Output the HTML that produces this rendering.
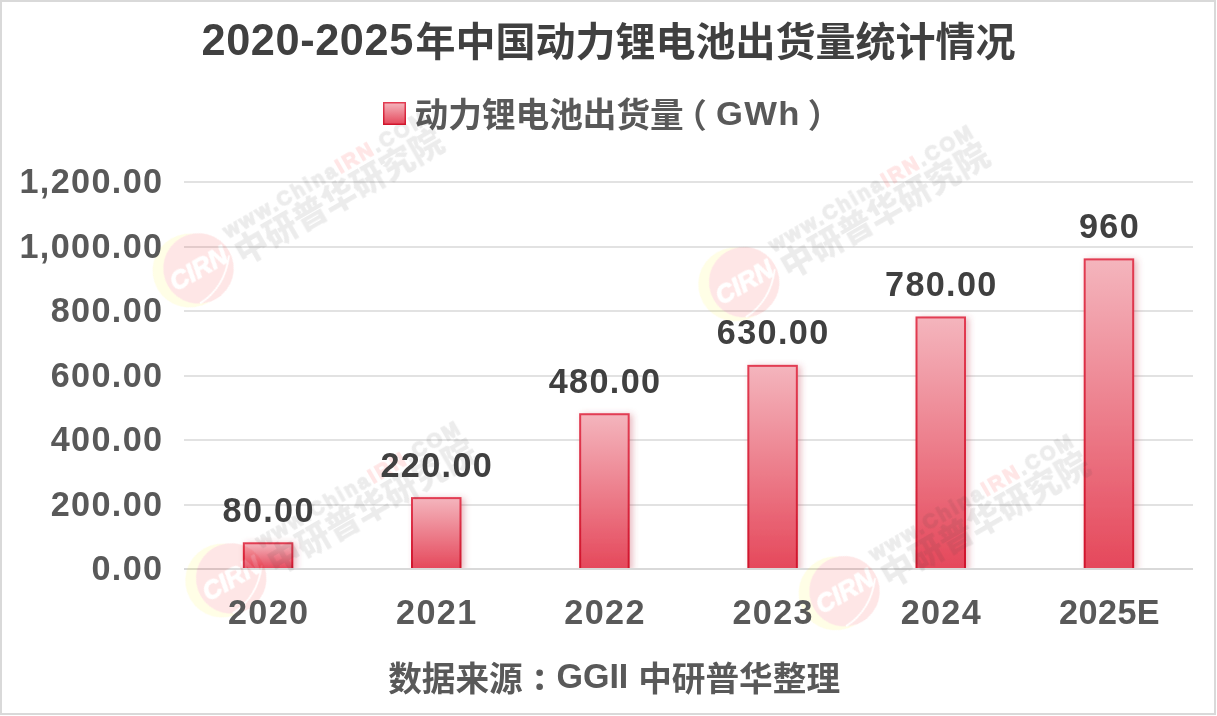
<!DOCTYPE html>
<html lang="zh-CN">
<head>
<meta charset="utf-8">
<title>2020-2025年中国动力锂电池出货量统计情况</title>
<style>
html,body{margin:0;padding:0;background:#fff;}
body{width:1217px;height:716px;overflow:hidden;position:relative;font-family:"Liberation Sans","Noto Sans CJK SC",sans-serif;}
#frame{position:absolute;left:0;top:0;width:1212px;height:711px;border:2px solid #d9d9d9;background:#fff;}
svg{position:absolute;left:0;top:0;}
text{font-family:"Liberation Sans","Noto Sans CJK SC",sans-serif;font-weight:bold;}
.cjk{font-family:"Liberation Sans","Noto Sans CJK SC",sans-serif;}
.wm0{font-size:25.5px;font-style:italic;fill:#fff;stroke:#fff;stroke-width:0.9px;font-weight:bold;}
.wm1{font-size:20px;fill:#404040;stroke:#404040;stroke-width:1.3px;font-weight:bold;}
.wm1 tspan{fill:#ff0000;stroke:#ff0000;}
.wm2{font-size:33.5px;fill:#404040;font-family:"Liberation Sans","Noto Sans CJK SC",sans-serif;font-weight:900;}
</style>
</head>
<body>
<div id="frame"></div>
<svg width="1217" height="716" viewBox="0 0 1217 716">
<defs>
  <linearGradient id="bf" x1="0" y1="0" x2="0" y2="1">
    <stop offset="0" stop-color="#f4b5bd"/>
    <stop offset="1" stop-color="#e5485b"/>
  </linearGradient>
  <linearGradient id="bs" x1="0" y1="0" x2="0" y2="1">
    <stop offset="0" stop-color="#e23c52"/>
    <stop offset="1" stop-color="#d0152c"/>
  </linearGradient>
  <clipPath id="plot"><rect x="150" y="150" width="1060" height="419"/></clipPath>
  <filter id="sh" x="-30%" y="-10%" width="180%" height="130%">
    <feGaussianBlur in="SourceAlpha" stdDeviation="3"/>
    <feOffset dx="3" dy="1" result="o"/>
    <feFlood flood-color="#c04050" flood-opacity="0.35"/>
    <feComposite in2="o" operator="in"/>
    <feMerge><feMergeNode/><feMergeNode in="SourceGraphic"/></feMerge>
  </filter>
</defs>

<!-- gridlines -->
<g fill="#e2e2e2">
  <rect x="184" y="181" width="1009" height="2"/>
  <rect x="184" y="246" width="1009" height="2"/>
  <rect x="184" y="310" width="1009" height="2"/>
  <rect x="184" y="375" width="1009" height="2"/>
  <rect x="184" y="439" width="1009" height="2"/>
  <rect x="184" y="504" width="1009" height="2"/>
</g>
<!-- bars -->
<g clip-path="url(#plot)"><g filter="url(#sh)"><g fill="url(#bf)" stroke="url(#bs)" stroke-width="2">
  <rect x="243.83" y="543.29" width="48.5" height="25.81"/>
  <rect x="412.00" y="498.12" width="48.5" height="70.98"/>
  <rect x="580.17" y="414.24" width="48.5" height="154.86"/>
  <rect x="748.34" y="365.85" width="48.5" height="203.25"/>
  <rect x="916.51" y="317.45" width="48.5" height="251.65"/>
  <rect x="1084.68" y="259.38" width="48.5" height="309.72"/>
</g></g></g>
<rect x="184" y="568" width="1009" height="2" fill="#d9d9d9"/>
<!-- watermarks -->
<g opacity="0.1">
  <g transform="translate(198.5,268.4) rotate(-30)">
    <circle cx="-8.8" cy="-2.6" r="37" fill="#fff000"/>
    <circle cx="0" cy="0" r="35.2" fill="#f50500"/>
    <text class="wm0" x="0" y="8.5" text-anchor="middle">CIRN</text>
    <path d="M-16 31 Q 13.5 29.7 33 4" fill="none" stroke="#fff" stroke-width="1.8"/>
    <text class="wm1" x="40.5" y="-11.5" textLength="231.5" lengthAdjust="spacing">www.China<tspan>IRN</tspan>.COM</text>
    <text class="wm2" x="40" y="19.5" textLength="235" lengthAdjust="spacing">中研普华研究院</text>
  </g>
  <g transform="translate(744.2,282.2) rotate(-30)">
    <circle cx="-8.8" cy="-2.6" r="37" fill="#fff000"/>
    <circle cx="0" cy="0" r="35.2" fill="#f50500"/>
    <text class="wm0" x="0" y="8.5" text-anchor="middle">CIRN</text>
    <path d="M-16 31 Q 13.5 29.7 33 4" fill="none" stroke="#fff" stroke-width="1.8"/>
    <text class="wm1" x="40.5" y="-11.5" textLength="231.5" lengthAdjust="spacing">www.China<tspan>IRN</tspan>.COM</text>
    <text class="wm2" x="40" y="19.5" textLength="235" lengthAdjust="spacing">中研普华研究院</text>
  </g>
  <g transform="translate(231.2,578.4) rotate(-30)">
    <circle cx="-8.8" cy="-2.6" r="37" fill="#fff000"/>
    <circle cx="0" cy="0" r="35.2" fill="#f50500"/>
    <text class="wm0" x="0" y="8.5" text-anchor="middle">CIRN</text>
    <path d="M-16 31 Q 13.5 29.7 33 4" fill="none" stroke="#fff" stroke-width="1.8"/>
    <text class="wm1" x="40.5" y="-11.5" textLength="231.5" lengthAdjust="spacing">www.China<tspan>IRN</tspan>.COM</text>
    <text class="wm2" x="40" y="19.5" textLength="235" lengthAdjust="spacing">中研普华研究院</text>
  </g>
  <g transform="translate(844.5,591.2) rotate(-30)">
    <circle cx="-8.8" cy="-2.6" r="37" fill="#fff000"/>
    <circle cx="0" cy="0" r="35.2" fill="#f50500"/>
    <text class="wm0" x="0" y="8.5" text-anchor="middle">CIRN</text>
    <path d="M-16 31 Q 13.5 29.7 33 4" fill="none" stroke="#fff" stroke-width="1.8"/>
    <text class="wm1" x="40.5" y="-11.5" textLength="231.5" lengthAdjust="spacing">www.China<tspan>IRN</tspan>.COM</text>
    <text class="wm2" x="40" y="19.5" textLength="235" lengthAdjust="spacing">中研普华研究院</text>
  </g>
</g>
<!-- title -->
<text transform="translate(201.5,55) scale(1,1.022)" font-size="43.28" fill="#404040" text-anchor="start" letter-spacing="0.60">2020-2025</text>
<text class="cjk" x="415.5" y="56" font-size="40" fill="#404040">年中国动力锂电池出货量统计情况</text>
<!-- legend -->
<rect x="383.75" y="102.75" width="21.5" height="21.5" fill="url(#bf)" stroke="url(#bs)" stroke-width="1.5"/>
<text class="cjk" x="414.6" y="127" font-size="33.65" fill="#595959">动力锂电池出货量</text>
<text class="cjk" x="673.5" y="127" font-size="33.3" fill="#595959">（</text>
<text transform="translate(716,125) scale(1,0.985)" font-size="34.62" fill="#595959" text-anchor="start" letter-spacing="1.38">GWh</text>
<text class="cjk" x="807.8" y="127" font-size="33.3" fill="#595959">）</text>
<!-- y axis -->
<text transform="translate(163.4,193) scale(1,1.04)" font-size="34.19" fill="#595959" text-anchor="end" letter-spacing="1.36">1,200.00</text>
<text transform="translate(163.4,258) scale(1,1.04)" font-size="34.19" fill="#595959" text-anchor="end" letter-spacing="1.36">1,000.00</text>
<text transform="translate(163.4,322) scale(1,1.04)" font-size="34.19" fill="#595959" text-anchor="end" letter-spacing="1.36">800.00</text>
<text transform="translate(163.4,387) scale(1,1.04)" font-size="34.19" fill="#595959" text-anchor="end" letter-spacing="1.36">600.00</text>
<text transform="translate(163.4,451) scale(1,1.04)" font-size="34.19" fill="#595959" text-anchor="end" letter-spacing="1.36">400.00</text>
<text transform="translate(163.4,516) scale(1,1.04)" font-size="34.19" fill="#595959" text-anchor="end" letter-spacing="1.36">200.00</text>
<text transform="translate(163.4,580) scale(1,1.04)" font-size="34.19" fill="#595959" text-anchor="end" letter-spacing="1.36">0.00</text>
<!-- x axis -->
<text transform="translate(268.685,624) scale(1,1.04)" font-size="34.19" fill="#595959" text-anchor="middle" letter-spacing="1.36">2020</text>
<text transform="translate(436.855,624) scale(1,1.04)" font-size="34.19" fill="#595959" text-anchor="middle" letter-spacing="1.36">2021</text>
<text transform="translate(605.025,624) scale(1,1.04)" font-size="34.19" fill="#595959" text-anchor="middle" letter-spacing="1.36">2022</text>
<text transform="translate(773.1949999999999,624) scale(1,1.04)" font-size="34.19" fill="#595959" text-anchor="middle" letter-spacing="1.36">2023</text>
<text transform="translate(941.365,624) scale(1,1.04)" font-size="34.19" fill="#595959" text-anchor="middle" letter-spacing="1.36">2024</text>
<text transform="translate(1109.5349999999999,624) scale(1,1.04)" font-size="34.19" fill="#595959" text-anchor="middle" letter-spacing="0.45">2025E</text>
<!-- data labels -->
<text transform="translate(268.685,521.79) scale(1,1.04)" font-size="34.19" fill="#404040" text-anchor="middle" letter-spacing="1.36">80.00</text>
<text transform="translate(436.855,476.6225) scale(1,1.04)" font-size="34.19" fill="#404040" text-anchor="middle" letter-spacing="1.36">220.00</text>
<text transform="translate(605.025,392.74) scale(1,1.04)" font-size="34.19" fill="#404040" text-anchor="middle" letter-spacing="1.36">480.00</text>
<text transform="translate(773.1949999999999,344.34625) scale(1,1.04)" font-size="34.19" fill="#404040" text-anchor="middle" letter-spacing="1.36">630.00</text>
<text transform="translate(941.365,295.9525) scale(1,1.04)" font-size="34.19" fill="#404040" text-anchor="middle" letter-spacing="1.36">780.00</text>
<text transform="translate(1109.5349999999999,237.88) scale(1,1.04)" font-size="34.19" fill="#404040" text-anchor="middle" letter-spacing="1.36">960</text>
<!-- source -->
<text class="cjk" x="388.2" y="690.5" font-size="33.65" fill="#595959">数据来源</text>
<text class="cjk" x="532.4" y="689" font-size="28.5" fill="#595959" stroke="#595959" stroke-width="1.2">：</text>
<text transform="translate(556.6,688.4) scale(1,1.05)" font-size="34.08" fill="#595959" text-anchor="start" letter-spacing="-0.10">GGII</text>
<text class="cjk" x="638.2" y="690.5" font-size="33.65" fill="#595959">中研普华整理</text>
</svg>
</body>
</html>
